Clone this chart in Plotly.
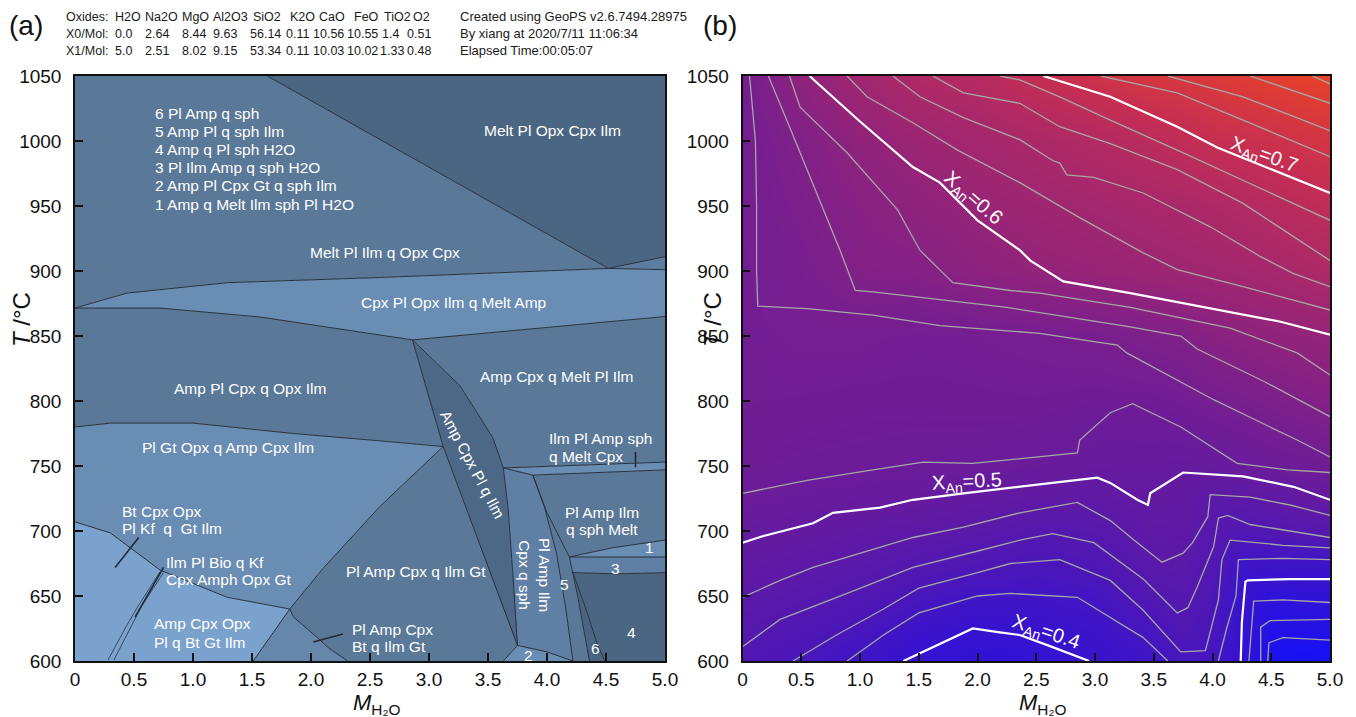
import plotly.graph_objects as go

FONT = "Liberation Sans, Arial, sans-serif"

# ---------------- header text ----------------
OXIDES = ["H2O", "Na2O", "MgO", "Al2O3", "SiO2", "K2O", "CaO", "FeO", "TiO2", "O2"]
X0_MOL = ["0.0", "2.64", "8.44", "9.63", "56.14", "0.11", "10.56", "10.55", "1.4", "0.51"]
X1_MOL = ["5.0", "2.51", "8.02", "9.15", "53.34", "0.11", "10.03", "10.02", "1.33", "0.48"]
ROW_NAMES = ["Oxides:", "X0/Mol:", "X1/Mol:"]
INFO = ["Created using GeoPS v2.6.7494.28975", "By xiang at 2020/7/11 11:06:34", "Elapsed Time:00:05:07"]

# ---------------- axes ----------------
X_TICKS = [0, 0.5, 1.0, 1.5, 2.0, 2.5, 3.0, 3.5, 4.0, 4.5, 5.0]
X_TICKTEXT = ["0", "0.5", "1.0", "1.5", "2.0", "2.5", "3.0", "3.5", "4.0", "4.5", "5.0"]
T_TICKS = [600, 650, 700, 750, 800, 850, 900, 950, 1000, 1050]

# ---------------- (a) phase boundaries  (M_H2O, T) ----------------
DIAG = [(1.63, 1050), (4.52, 902)]
MELT_RIGHT = [(4.52, 902), (5.0, 911)]
WEDGE = [(4.52, 902), (5.0, 901)]
CPX_TOP = [(0, 871.5), (0.44, 883), (1.29, 891), (2.58, 895), (4.52, 902)]
CPX_BOT_W = [(0, 871.5), (0.72, 871.5), (1.57, 864.6), (2.58, 851), (2.86, 847)]
CPX_BOT_E = [(2.86, 847), (5.0, 865)]
AMP_BOT = [(0, 780), (0.3, 783), (1.0, 783), (1.85, 775), (2.5, 770), (3.12, 765)]
STRIP_L_UP = [(2.86, 847), (3.12, 765)]
STRIP_L_LO = [(3.12, 765), (3.43, 690), (3.75, 612)]
STRIP_R_UP = [(2.86, 847), (3.26, 812), (3.54, 772), (3.63, 748.5)]
STRIP_R_LO = [(3.63, 748.5), (3.67, 718), (3.71, 668), (3.75, 612)]
BAND_TOP = [(3.63, 748.5), (5.0, 753)]
BAND_BOT = [(3.88, 743), (5.0, 747)]
SPH_TOP = [(3.63, 748.5), (3.88, 743)]
Q3 = [(3.88, 743), (3.98, 718), (4.08, 683), (4.16, 640), (4.22, 600)]
Q4_UP = [(3.88, 743), (4.0, 714), (4.19, 680)]
Q4_LO = [(4.19, 680), (4.22, 668), (4.26, 650), (4.36, 600)]
Q5 = [(4.22, 668), (4.33, 640), (4.43, 612), (4.49, 600)]
F1_TOP = [(4.19, 680), (4.55, 687), (5.0, 693)]
F3_TOP = [(4.19, 680), (5.0, 680)]
F3_BOT = [(4.22, 668), (4.6, 667), (5.0, 668)]
F2 = [(3.63, 600), (3.75, 612), (4.0, 607), (4.22, 600)]
L1 = [(3.12, 765), (2.58, 718.5), (2.1, 671), (1.82, 640)]
L2 = [(0, 707), (0.3, 698.5), (0.72, 670), (1.29, 649), (1.82, 640)]
L3 = [(1.82, 640), (1.63, 616), (1.51, 600)]
L4 = [(1.82, 640), (1.85, 634), (2.01, 621.5), (2.15, 610), (2.31, 600)]
W1 = [(0.28, 600.8), (0.43, 626), (0.53, 641.5), (0.72, 668.5)]
W2 = [(0.33, 600.8), (0.47, 626), (0.56, 641.5), (0.75, 668)]
POINTERS = [[(0.34, 672), (0.54, 695)], [(0.51, 634), (0.75, 672)],
            [(2.02, 614.6), (2.27, 620.8)], [(4.75, 760.8), (4.75, 749)]]

# ---------------- (a) labels ----------------
LEGEND_LINES = ["6 Pl Amp q sph", "5 Amp Pl q sph Ilm", "4 Amp q Pl sph H2O",
                "3 Pl Ilm Amp q sph H2O", "2 Amp Pl Cpx Gt q sph Ilm", "1 Amp q Melt Ilm sph Pl H2O"]
LEGEND_T = [1021.5, 1007.5, 993.5, 979.5, 965.5, 951.5]
FIELD_LABELS = [  # text, x, T, anchor, angle
    ("Melt Pl Opx Cpx Ilm", 4.05, 1007.7, "center", 0),
    ("Melt Pl Ilm q Opx Cpx", 2.63, 914.6, "center", 0),
    ("Cpx Pl Opx Ilm q Melt Amp", 3.21, 876, "center", 0),
    ("Amp Pl Cpx q Opx Ilm", 1.48, 810, "center", 0),
    ("Amp Cpx q Melt Pl Ilm", 4.08, 818.5, "center", 0),
    ("Pl Gt Opx q Amp Cpx Ilm", 1.30, 764, "center", 0),
    ("Ilm Pl Amp sph", 4.0, 770.8, "left", 0),
    ("q Melt Cpx", 4.0, 757, "left", 0),
    ("Pl Amp Ilm", 4.47, 714.6, "center", 0),
    ("q sph Melt", 4.47, 701.5, "center", 0),
    ("Pl Amp Cpx q Ilm Gt", 2.89, 668.5, "center", 0),
    ("Bt Cpx Opx", 0.38, 715, "left", 0),
    ("Pl Kf  q  Gt Ilm", 0.38, 702, "left", 0),
    ("Ilm Pl Bio q Kf", 0.75, 676, "left", 0),
    ("Cpx Amph Opx Gt", 0.75, 663, "left", 0),
    ("Amp Cpx Opx", 0.65, 628.5, "left", 0),
    ("Pl q Bt Gt Ilm", 0.65, 614.6, "left", 0),
    ("Pl Amp Cpx", 2.33, 624, "left", 0),
    ("Bt q Ilm Gt", 2.33, 611, "left", 0),
    ("Amp Cpx Pl q Ilm", 3.37, 751.5, "center", 62),
    ("Pl Amp Ilm<br>Cpx q sph", 3.90, 666, "center", 90),
    ("1", 4.87, 687, "center", 0), ("3", 4.58, 671.5, "center", 0),
    ("5", 4.15, 658.5, "center", 0), ("4", 4.72, 622, "center", 0),
    ("6", 4.41, 610, "center", 0), ("2", 3.84, 604.6, "center", 0),
]

# ---------------- (b) X_An grid ----------------
XG = [0, 0.5, 1.0, 1.5, 2.0, 2.5, 3.0, 3.5, 3.75, 4.0, 4.25, 4.5, 5.0]
TG = [600, 625, 650, 675, 700, 725, 750, 800, 850, 900, 950, 1000, 1050]
Z_600 = [0.452, 0.436, 0.414, 0.395, 0.385, 0.390, 0.405, 0.415, 0.435, 0.425, 0.398, 0.325, 0.310]
Z_625 = [0.467, 0.452, 0.436, 0.412, 0.400, 0.405, 0.412, 0.436, 0.452, 0.437, 0.400, 0.352, 0.352]
Z_650 = [0.480, 0.468, 0.455, 0.436, 0.420, 0.419, 0.427, 0.456, 0.466, 0.447, 0.402, 0.385, 0.388]
Z_675 = [0.492, 0.484, 0.474, 0.459, 0.449, 0.440, 0.447, 0.476, 0.477, 0.455, 0.415, 0.415, 0.415]
Z_700 = [0.505, 0.498, 0.490, 0.483, 0.475, 0.463, 0.467, 0.488, 0.486, 0.466, 0.451, 0.457, 0.466]
Z_725 = [0.518, 0.512, 0.506, 0.504, 0.495, 0.488, 0.487, 0.498, 0.494, 0.478, 0.481, 0.485, 0.501]
Z_750 = [0.525, 0.522, 0.521, 0.519, 0.518, 0.513, 0.507, 0.506, 0.503, 0.507, 0.511, 0.520, 0.528]
Z_800 = [0.530, 0.529, 0.527, 0.527, 0.528, 0.529, 0.525, 0.526, 0.532, 0.540, 0.546, 0.553, 0.567]
Z_850 = [0.532, 0.537, 0.537, 0.533, 0.535, 0.539, 0.545, 0.557, 0.560, 0.575, 0.583, 0.591, 0.599]
Z_900 = [0.534, 0.545, 0.563, 0.567, 0.584, 0.596, 0.604, 0.614, 0.620, 0.623, 0.629, 0.634, 0.652]
Z_950 = [0.535, 0.553, 0.574, 0.589, 0.605, 0.619, 0.628, 0.640, 0.643, 0.652, 0.659, 0.670, 0.690]
Z_1000 = [0.536, 0.562, 0.591, 0.613, 0.630, 0.645, 0.660, 0.678, 0.690, 0.703, 0.708, 0.715, 0.732]
Z_1050 = [0.538, 0.590, 0.624, 0.655, 0.667, 0.700, 0.720, 0.740, 0.742, 0.750, 0.760, 0.770, 0.785]

# ---------------- (b) isopleths (M_H2O, T) ----------------
C034 = [(4.47, 600), (4.48, 614), (4.60, 618), (5.0, 616)]
C036 = [(4.41, 600), (4.41, 626), (4.49, 631), (5.0, 632)]
C038 = [(4.31, 600), (4.33, 625), (4.35, 646), (4.6, 647), (5.0, 645)]
C040 = [(1.37, 600), (1.74, 616), (1.96, 625), (2.19, 622), (2.36, 620), (2.6, 612), (2.8, 605), (2.95, 600), None,
        (4.24, 600), (4.25, 630), (4.28, 661), (4.30, 662), (4.66, 663), (5.0, 663)]
C042 = [(0.89, 600), (1.2, 620), (1.5, 637), (2.0, 650), (2.28, 652), (2.85, 649), (3.41, 618), (3.55, 606), (3.62, 600), None,
        (4.05, 600), (4.12, 625), (4.20, 650), (4.22, 678), (4.6, 679), (5.0, 678)]
C044 = [(0.43, 600), (0.8, 620), (1.2, 640), (1.5, 656), (2.0, 668), (2.28, 675), (2.70, 678), (3.13, 662), (3.41, 639),
        (3.64, 616), (3.73, 607), (3.94, 608), (4.05, 647), (4.08, 678), (4.15, 693), (4.60, 689), (5.0, 687)]
C046 = [(0, 611), (0.32, 632), (0.89, 652), (1.45, 672), (2.02, 685), (2.36, 693), (2.64, 698), (2.99, 691), (3.41, 663),
        (3.64, 642), (3.70, 637), (3.79, 641), (3.87, 657), (4.01, 688), (4.05, 710), (4.13, 712), (4.32, 705), (5.0, 695)]
C048 = [(0, 649), (0.32, 662), (0.60, 672), (0.89, 680), (1.45, 695), (1.88, 703), (2.36, 714), (2.85, 722), (3.13, 708),
        (3.36, 691), (3.57, 676), (3.75, 683), (3.83, 691), (3.96, 711), (3.98, 728), (4.32, 726), (4.66, 720), (5.0, 712)]
C050 = [(0, 691), (0.17, 696), (0.60, 706), (0.77, 714), (1.17, 718), (1.45, 724), (1.88, 729), (2.36, 734), (3.02, 741),
        (3.13, 737), (3.36, 724), (3.45, 720), (3.47, 729), (3.75, 745), (4.26, 742), (4.69, 734), (5.0, 724)]
C052 = [(0, 729), (0.55, 739), (1.11, 747), (1.54, 753), (1.96, 752), (2.42, 756), (2.85, 760), (2.87, 770), (3.13, 791),
        (3.32, 798), (3.39, 795), (3.73, 780), (4.21, 752), (4.64, 747), (5.0, 745)]
C054 = [(0.06, 1050), (0.11, 1000), (0.12, 950), (0.12, 900), (0.13, 873), (0.34, 872), (0.55, 871), (1.11, 866),
        (1.68, 858), (2.25, 854), (2.53, 852), (3.19, 843), (3.27, 837), (4.01, 801), (4.72, 770), (5.0, 757)]
C056 = [(0.22, 1050), (0.40, 1011), (0.83, 916), (0.96, 885), (1.11, 884), (1.68, 878), (2.25, 872), (2.53, 868),
        (3.30, 857), (3.73, 850), (3.87, 840), (4.44, 815), (5.0, 788)]
C058 = [(0.40, 1050), (0.49, 1026), (0.89, 991), (1.32, 947), (1.51, 916), (1.79, 891), (2.28, 885), (2.53, 883),
        (3.30, 872), (4.15, 856), (4.72, 837), (5.0, 820)]
C060 = [(0.57, 1050), (1.00, 1015), (1.45, 980), (1.68, 968), (2.00, 939), (2.36, 916), (2.45, 908), (2.73, 892),
        (3.30, 883), (4.15, 868), (4.58, 861), (5.0, 851)]
C062 = [(0.89, 1050), (1.06, 1034), (1.45, 1014), (1.83, 993), (2.36, 968), (2.85, 942), (3.41, 914), (3.70, 901),
        (4.26, 888), (5.0, 870)]
C064 = [(1.28, 1050), (1.51, 1034), (1.88, 1018), (2.36, 1001), (2.64, 985), (2.70, 983), (2.76, 974), (2.99, 972),
        (3.41, 960), (3.98, 934), (4.41, 911), (4.69, 898), (5.0, 888)]
C066 = [(1.62, 1050), (1.88, 1037), (2.36, 1029), (2.70, 1011), (3.13, 998), (3.70, 978), (4.26, 952), (5.0, 908)]
C068 = [(2.19, 1050), (2.36, 1047), (2.70, 1034), (3.13, 1016), (3.70, 993), (4.26, 970), (5.0, 939)]
C070 = [(2.56, 1050), (3.13, 1034), (3.70, 1011), (4.04, 995), (5.0, 960)]
C072 = [(3.05, 1050), (3.70, 1037), (4.26, 1016), (5.0, 988)]
C074 = [(3.62, 1050), (4.26, 1034), (5.0, 1008)]
C076 = [(4.32, 1050), (5.0, 1029)]
C078 = [(4.85, 1050), (5.0, 1044)]
GRAY_LEVELS = [C034, C036, C038, C042, C044, C046, C048, C052, C054, C056, C058,
               C062, C064, C066, C068, C072, C074, C076, C078]
WHITE_LEVELS = [C040, C050, C060, C070]
ISO_LABELS = [("0.4", 2.58, 622, 19), ("0.5", 1.91, 737, -3), ("0.6", 1.96, 956, 41), ("0.7", 4.44, 989, 20)]

# =====================================================================
W, H = 1356, 717
OFF = 8  # page body margin of the browser
PLOT_TOP, PLOT_BOT = 76, 661


def rev(b):
    return b[::-1]


def xy(pts):
    return [p[0] if p else None for p in pts], [p[1] if p else None for p in pts]


def joined(lines):
    out = []
    for ln in lines:
        out += ln + [None]
    return out


def paper(px, py):
    return (px - OFF) / W, 1 - (py - OFF) / H


REGIONS = [
    (CPX_TOP + rev(DIAG) + [(0, 1050)], "#5a7898"),
    (DIAG + MELT_RIGHT[1:] + [(5.0, 1050)], "#4b6683"),
    (MELT_RIGHT + [(5.0, 901)], "#5d7d9f"),
    (CPX_TOP + [(5.0, 901)] + rev(CPX_BOT_W + CPX_BOT_E[1:]), "#6a8db3"),
    (CPX_BOT_W + STRIP_L_UP[1:] + rev(AMP_BOT)[1:], "#5a7898"),
    (AMP_BOT + L1[1:] + rev(L2)[1:], "#6a8db4"),
    (L2 + L3[1:] + [(0, 600)], "#7ba2cd"),
    (L4 + rev(L3)[:-1], "#6686ab"),
    (L1 + L4[1:] + F2 + rev(STRIP_L_LO)[1:], "#5a7898"),
    (STRIP_R_UP + STRIP_R_LO[1:] + rev(STRIP_L_UP + STRIP_L_LO[1:]), "#4c6886"),
    (CPX_BOT_E + rev(BAND_TOP) + rev(STRIP_R_UP)[1:], "#5a7898"),
    (BAND_TOP + rev(BAND_BOT), "#6a8db3"),
    (SPH_TOP + Q3[1:] + rev(F2)[1:-1] + rev(STRIP_R_LO), "#5f80a4"),
    (BAND_BOT + rev(F1_TOP) + rev(Q4_UP)[1:], "#5a7898"),
    (F1_TOP + [(5.0, 680)], "#6a8db3"),
    (F3_TOP + rev(F3_BOT), "#5f80a4"),
    (F3_BOT + [(5.0, 600)] + rev(Q5), "#4b6683"),
    (Q5 + rev(Q4_LO[1:]), "#4a6582"),
    (Q4_UP + Q4_LO[1:] + rev(Q3), "#5a7898"),
    (F2, "#6a8db3"),
]
BOUNDARIES = [DIAG, MELT_RIGHT, WEDGE, CPX_TOP, CPX_BOT_W, CPX_BOT_E, AMP_BOT, STRIP_L_UP, STRIP_L_LO,
              STRIP_R_UP, STRIP_R_LO, BAND_TOP, BAND_BOT, SPH_TOP, Q3, Q4_UP, Q4_LO, Q5, F1_TOP,
              F3_TOP, F3_BOT, F2, L1, L2, L3, L4]

fig = go.Figure()
for pts, col in REGIONS:
    x, y = xy(pts)
    fig.add_trace(go.Scatter(x=x, y=y, fill="toself", fillcolor=col, mode="none",
                             hoverinfo="skip", showlegend=False, xaxis="x", yaxis="y"))

bx, by = xy(joined(BOUNDARIES))
fig.add_trace(go.Scatter(x=bx, y=by, mode="lines", line=dict(color="#27313d", width=1),
                         hoverinfo="skip", showlegend=False, xaxis="x", yaxis="y"))
wx, wy = xy(joined([W1, W2]))
fig.add_trace(go.Scatter(x=wx, y=wy, mode="lines", line=dict(color="#27313d", width=0.8),
                         hoverinfo="skip", showlegend=False, xaxis="x", yaxis="y"))
px_, py_ = xy(joined(POINTERS))
fig.add_trace(go.Scatter(x=px_, y=py_, mode="lines", line=dict(color="#222a33", width=1.6),
                         hoverinfo="skip", showlegend=False, xaxis="x", yaxis="y"))

# ---- panel (b)
ZG = [Z_600, Z_625, Z_650, Z_675, Z_700, Z_725, Z_750, Z_800, Z_850, Z_900, Z_950, Z_1000, Z_1050]
CSCALE = [[0.0, "#1010ff"], [0.2, "#3613d0"], [0.3, "#4f17b4"], [0.44, "#6c1c98"], [0.5, "#7a1f8c"],
          [0.6, "#952478"], [0.8, "#c52e54"], [1.0, "#ee4520"]]
fig.add_trace(go.Heatmap(x=XG, y=TG, z=ZG, zmin=0.30, zmax=0.80, colorscale=CSCALE, zsmooth="best",
                         showscale=False, hoverinfo="skip", xaxis="x2", yaxis="y2"))
gx, gy = xy(joined(GRAY_LEVELS))
fig.add_trace(go.Scatter(x=gx, y=gy, mode="lines", line=dict(color="#a6a6a6", width=1.3),
                         hoverinfo="skip", showlegend=False, xaxis="x2", yaxis="y2"))
hx, hy = xy(joined(WHITE_LEVELS))
fig.add_trace(go.Scatter(x=hx, y=hy, mode="lines", line=dict(color="#ffffff", width=2.2),
                         hoverinfo="skip", showlegend=False, xaxis="x2", yaxis="y2"))

ann = []
for txt, t in zip(LEGEND_LINES, LEGEND_T):
    ann.append(dict(x=0.66, y=t, xref="x", yref="y", text=txt, showarrow=False, xanchor="left",
                    yanchor="middle", font=dict(size=15.5, color="white", family=FONT)))
for txt, x, t, anc, ang in FIELD_LABELS:
    ann.append(dict(x=x, y=t, xref="x", yref="y", text=txt, showarrow=False, xanchor=anc,
                    yanchor="middle", textangle=ang, font=dict(size=15.5, color="white", family=FONT)))
for lev, x, t, ang in ISO_LABELS:
    ann.append(dict(x=x, y=t, xref="x2", yref="y2", text="X<sub>An</sub>=" + lev, showarrow=False,
                    xanchor="center", yanchor="middle", textangle=ang,
                    font=dict(size=20, color="white", family=FONT)))

# header (left edges in page pixels)
OX_PX = [64, 113, 143, 180, 211, 251, 288, 317, 352, 382, 411]
M0_PX = [64, 113, 143, 180, 211, 248, 284, 311, 345, 380, 405]
M1_PX = [64, 113, 143, 180, 211, 248, 284, 311, 345, 378, 405]
ROW_Y = [17, 34, 51]
rows = [([ROW_NAMES[0]] + OXIDES, OX_PX), ([ROW_NAMES[1]] + X0_MOL, M0_PX), ([ROW_NAMES[2]] + X1_MOL, M1_PX)]
for ri, (row, cols) in enumerate(rows):
    for ci, cell in enumerate(row):
        x, y = paper(cols[ci], ROW_Y[ri])
        ann.append(dict(x=x, y=y, xref="paper", yref="paper", text=cell, showarrow=False, xanchor="left",
                        yanchor="middle", font=dict(size=12.5, color="#1a1a1a", family=FONT)))
for ri, txt in enumerate(INFO):
    x, y = paper(458, ROW_Y[ri])
    ann.append(dict(x=x, y=y, xref="paper", yref="paper", text=txt, showarrow=False, xanchor="left",
                    yanchor="middle", font=dict(size=13, color="#1a1a1a", family=FONT)))
for txt, pxx in (("(a)", 26), ("(b)", 720)):
    x, y = paper(pxx, 25)
    ann.append(dict(x=x, y=y, xref="paper", yref="paper", text=txt, showarrow=False,
                    xanchor="center", yanchor="middle", font=dict(size=28, color="#111", family=FONT)))
# axis titles
for pxx in (21, 712):
    x, y = paper(pxx, 320)
    ann.append(dict(x=x, y=y, xref="paper", yref="paper", text="<i>T</i> /°C", showarrow=False, textangle=-90,
                    xanchor="center", yanchor="middle", font=dict(size=24, color="#111", family=FONT)))
for pxx in (376, 1042):
    x, y = paper(pxx, 704)
    ann.append(dict(x=x, y=y, xref="paper", yref="paper", text="<i>M</i><sub>H₂O</sub>", showarrow=False,
                    xanchor="center", yanchor="middle", font=dict(size=22, color="#111", family=FONT)))

_, Y0 = paper(0, PLOT_BOT)
_, Y1 = paper(0, PLOT_TOP)


def xaxis(px0, px1, anchor):
    return dict(domain=[paper(px0, 0)[0], paper(px1, 0)[0]], anchor=anchor, range=[0, 5],
                tickvals=X_TICKS, ticktext=X_TICKTEXT,
                ticks="inside", ticklen=8, tickwidth=1.5, tickcolor="#111", showline=True, linecolor="#111",
                linewidth=1.5, mirror=True, showgrid=False, zeroline=False, automargin=False,
                tickfont=dict(size=19, color="#111", family=FONT))


def yaxis(anchor):
    return dict(domain=[Y0, Y1], anchor=anchor, range=[600, 1050], tickvals=T_TICKS,
                ticks="inside", ticklen=8, tickwidth=1.5, tickcolor="#111", showline=True, linecolor="#111",
                linewidth=1.5, mirror=True, showgrid=False, zeroline=False, automargin=False,
                ticklabelstandoff=8, tickfont=dict(size=19, color="#111", family=FONT))


fig.update_layout(
    width=W, height=H, margin=dict(l=0, r=0, t=0, b=0, autoexpand=False),
    paper_bgcolor="white", plot_bgcolor="white", showlegend=False,
    font=dict(family=FONT),
    xaxis=xaxis(75, 665, "y"),
    yaxis=yaxis("x"),
    xaxis2=xaxis(742.5, 1330, "y2"),
    yaxis2=yaxis("x2"),
    annotations=ann,
)
fig.write_html("out.html")
